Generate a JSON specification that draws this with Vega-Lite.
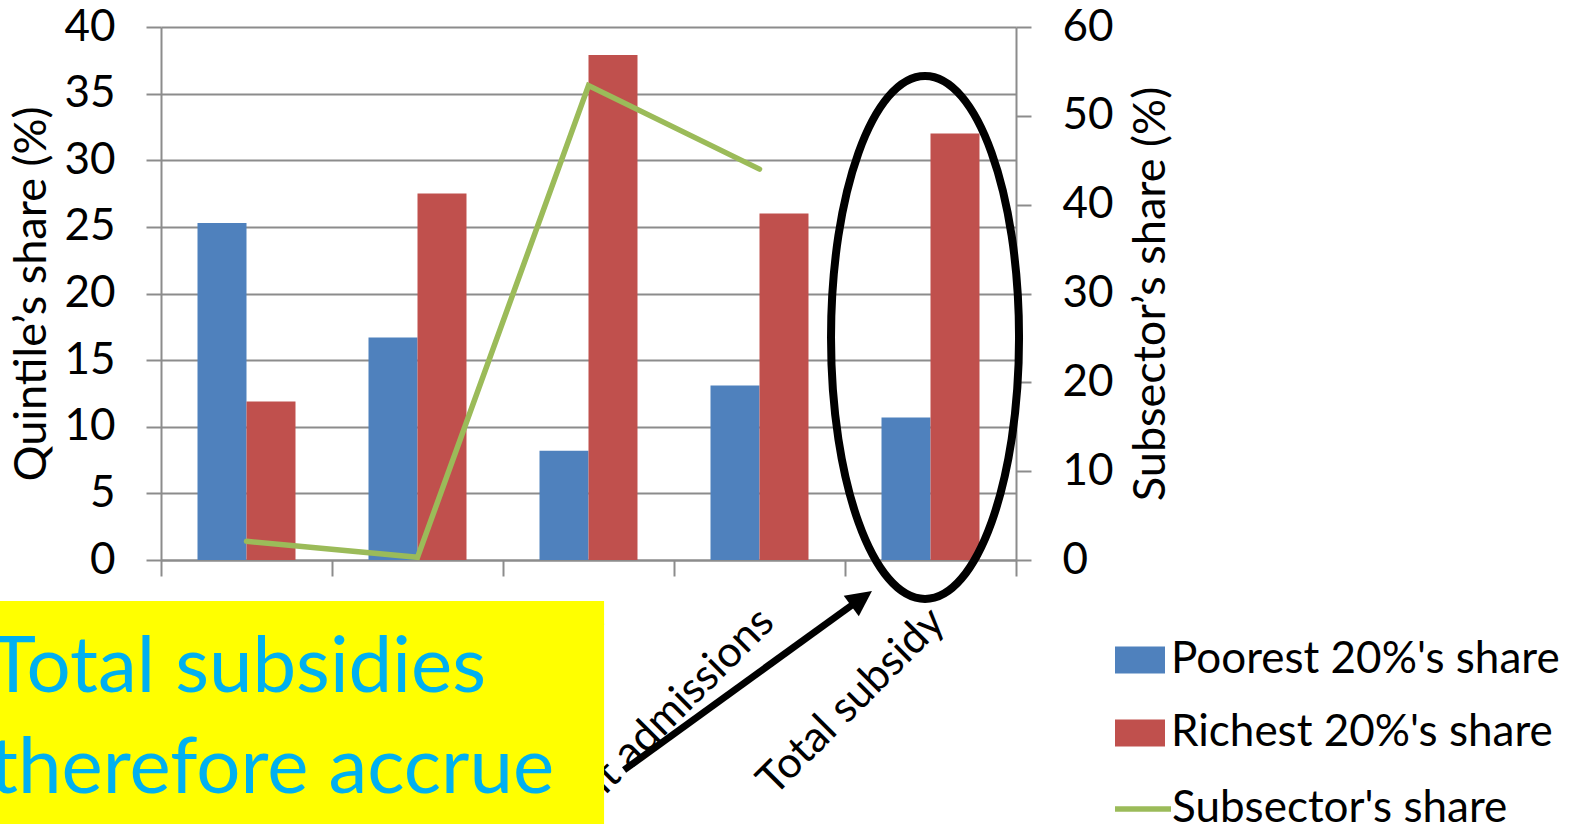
{
  "$schema": "https://vega.github.io/schema/vega-lite/v6.json",
  "width": 855,
  "height": 533,
  "autosize": {"type": "none"},
  "padding": {"left": 161, "top": 27, "right": 553, "bottom": 264},
  "background": "#ffffff",
  "config": {
    "font": "Lato",
    "view": {"stroke": null},
    "axis": {
      "domainColor": "#8c8c8c",
      "domainWidth": 2,
      "tickColor": "#8c8c8c",
      "tickWidth": 2,
      "gridColor": "#8c8c8c",
      "gridWidth": 2,
      "labelColor": "#000000",
      "titleColor": "#000000",
      "labelFont": "Lato",
      "titleFont": "Lato",
      "titleFontWeight": "normal"
    },
    "legend": {"labelFont": "Lato", "labelColor": "#000000"}
  },
  "datasets": {
    "quintile_shares": [
      {"subsector": "Clinics", "quintile": "Poorest 20%'s share", "share": 25.3},
      {"subsector": "Clinics", "quintile": "Richest 20%'s share", "share": 11.9},
      {"subsector": "Health centres", "quintile": "Poorest 20%'s share", "share": 16.7},
      {"subsector": "Health centres", "quintile": "Richest 20%'s share", "share": 27.5},
      {"subsector": "Hospital outpatient", "quintile": "Poorest 20%'s share", "share": 8.2},
      {"subsector": "Hospital outpatient", "quintile": "Richest 20%'s share", "share": 37.9},
      {"subsector": "Inpatient admissions", "quintile": "Poorest 20%'s share", "share": 13.1},
      {"subsector": "Inpatient admissions", "quintile": "Richest 20%'s share", "share": 26.0},
      {"subsector": "Total subsidy", "quintile": "Poorest 20%'s share", "share": 10.7},
      {"subsector": "Total subsidy", "quintile": "Richest 20%'s share", "share": 32.0}
    ],
    "subsector_shares": [
      {"subsector": "Clinics", "share": 2.1},
      {"subsector": "Health centres", "share": 0.3},
      {"subsector": "Hospital outpatient", "share": 53.4},
      {"subsector": "Inpatient admissions", "share": 44.0}
    ]
  },
  "layer": [
    {
      "layer": [
        {
          "data": {"name": "quintile_shares"},
          "mark": {"type": "bar"},
          "encoding": {
            "x": {
              "field": "subsector",
              "type": "nominal",
              "sort": null,
              "scale": {
                "domain": ["Clinics", "Health centres", "Hospital outpatient", "Inpatient admissions", "Total subsidy"],
                "paddingInner": 0,
                "paddingOuter": 0
              },
              "axis": {
                "title": null,
                "labelAngle": -45,
                "labelFontSize": 43,
                "labelPadding": 24,
                "labelOffset": -8,
                "labelLimit": 0,
                "tickSize": 16,
                "tickBand": "extent",
                "grid": false
              }
            },
            "xOffset": {
              "field": "quintile",
              "type": "nominal",
              "sort": null,
              "scale": {"paddingInner": 0, "paddingOuter": 0.745}
            },
            "y": {
              "field": "share",
              "type": "quantitative",
              "scale": {"domain": [0, 40], "nice": false},
              "axis": {
                "title": "Quintile’s share (%)",
                "values": [0, 5, 10, 15, 20, 25, 30, 35, 40],
                "grid": true,
                "tickSize": 15,
                "labelPadding": 31,
                "labelFontSize": 44,
                "titleFontSize": 45,
                "titlePadding": 9
              }
            },
            "fill": {
              "field": "quintile",
              "type": "nominal",
              "sort": null,
              "scale": {"range": ["#4F81BD", "#C0504D"]},
              "legend": {
                "title": null,
                "orient": "none",
                "legendX": 954,
                "legendY": 608,
                "padding": 0,
                "symbolType": "M-1,-0.54H1V0.54H-1Z",
                "symbolSize": 2500,
                "symbolStrokeWidth": 0,
                "labelFontSize": 44,
                "labelOffset": 6,
                "labelLimit": 0,
                "rowPadding": 26
              }
            }
          }
        },
        {
          "data": {"name": "subsector_shares"},
          "mark": {"type": "line", "strokeWidth": 5.5, "strokeCap": "round"},
          "encoding": {
            "x": {"field": "subsector", "type": "nominal", "sort": null},
            "y": {
              "field": "share",
              "type": "quantitative",
              "scale": {"domain": [0, 60], "nice": false},
              "axis": {
                "orient": "right",
                "title": "Subsector’s share (%)",
                "titleAngle": -90,
                "titleBaseline": "top",
                "values": [0, 10, 20, 30, 40, 50, 60],
                "grid": false,
                "tickSize": 15,
                "labelPadding": 31,
                "labelFontSize": 44,
                "titleFontSize": 45,
                "titlePadding": 15
              }
            },
            "stroke": {
              "datum": "Subsector's share",
              "type": "nominal",
              "scale": {"range": ["#9BBB59"]},
              "legend": {
                "title": null,
                "orient": "none",
                "legendX": 951,
                "legendY": 751,
                "padding": 0,
                "symbolType": "stroke",
                "symbolSize": 3136,
                "symbolStrokeWidth": 5.5,
                "labelFontSize": 44,
                "labelOffset": -2,
                "labelLimit": 0
              }
            }
          }
        }
      ],
      "resolve": {"scale": {"y": "independent"}}
    },
    {
      "data": {"values": [{"note": "Total subsidies\ntherefore accrue"}]},
      "layer": [
        {
          "mark": {"type": "rect", "color": "#FFFF00"},
          "encoding": {
            "x": {"datum": -0.9415, "type": "quantitative", "scale": {"domain": [0, 5], "nice": false, "zero": false}, "axis": null},
            "x2": {"datum": 2.591},
            "y": {"datum": -3.077, "type": "quantitative", "scale": {"domain": [0, 40], "nice": false, "zero": false}, "axis": null},
            "y2": {"datum": -19.81}
          }
        },
        {
          "mark": {"type": "text", "align": "left", "baseline": "alphabetic", "fontSize": 78, "lineHeight": 101, "lineBreak": "\n", "color": "#00B0F0"},
          "encoding": {
            "text": {"field": "note", "type": "nominal"},
            "x": {"datum": -1.0, "type": "quantitative"},
            "y": {"datum": -9.906, "type": "quantitative"}
          }
        },
        {
          "mark": {"type": "rule", "color": "#000000", "strokeWidth": 7},
          "encoding": {
            "x": {"datum": 2.708, "type": "quantitative"},
            "y": {"datum": -15.76, "type": "quantitative"},
            "x2": {"datum": 4.082},
            "y2": {"datum": -3.0}
          }
        },
        {
          "mark": {"type": "point", "shape": "M0,-1L0.8,0.6L-0.8,0.6Z", "size": 1024, "angle": 54, "filled": true, "color": "#000000", "opacity": 1},
          "encoding": {
            "x": {"datum": 4.082, "type": "quantitative"},
            "y": {"datum": -3.03, "type": "quantitative"}
          }
        },
        {
          "mark": {"type": "point", "shape": "M0,-1A0.3595,1,0,1,1,0,1A0.3595,1,0,1,1,0,-1Z", "size": 273529, "filled": false, "color": "#000000", "strokeWidth": 8, "opacity": 1},
          "encoding": {
            "x": {"datum": 4.468, "type": "quantitative"},
            "y": {"datum": 16.7, "type": "quantitative"}
          }
        }
      ]
    }
  ],
  "resolve": {"scale": {"x": "independent", "y": "independent"}}
}
